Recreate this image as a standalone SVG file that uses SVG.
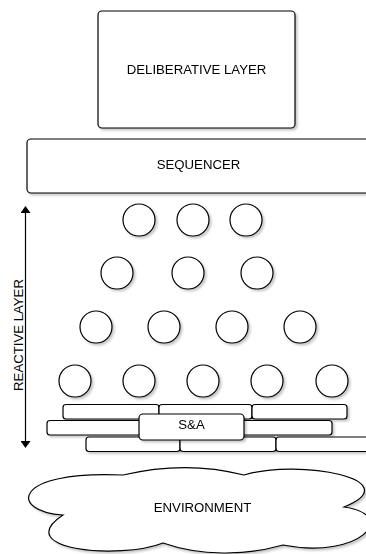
<svg xmlns="http://www.w3.org/2000/svg" width="366" height="554" viewBox="0 0 366 554">
<style>
.b{fill:#fff;stroke:#000;stroke-width:1.2}
.t{font-family:"Liberation Sans",Arial,sans-serif;font-size:13.2px;fill:#000;text-anchor:middle}
.c{fill:#fff;stroke:#000;stroke-width:1.2}
</style>
<defs>
<filter id="sh" x="-20%" y="-20%" width="140%" height="140%">
<feDropShadow dx="2" dy="2" stdDeviation="1" flood-color="#000" flood-opacity="0.22"/>
</filter>
<marker id="ah" viewBox="0 0 10 10" refX="0" refY="5" markerWidth="7" markerHeight="10" markerUnits="userSpaceOnUse" orient="auto-start-reverse" preserveAspectRatio="none">
<path d="M0,0 L10,5 L0,10 Z" fill="#000"/>
</marker>
</defs>
<rect width="366" height="554" fill="#fff"/>
<g id="deliberative" filter="url(#sh)">
<rect class="b" x="98" y="11" width="197" height="117" rx="4"/>
<text class="t" x="196.5" y="74">DELIBERATIVE LAYER</text>
</g>
<g id="sequencer" filter="url(#sh)">
<rect class="b" x="27" y="139" width="345" height="54" rx="4"/>
<text class="t" x="198.5" y="169">SEQUENCER</text>
</g>
<g id="behaviors" filter="url(#sh)">
<circle class="c" cx="139" cy="220" r="16"/>
<circle class="c" cx="193" cy="220" r="16"/>
<circle class="c" cx="246" cy="220" r="16"/>
<circle class="c" cx="117" cy="273" r="16"/>
<circle class="c" cx="188" cy="273" r="16"/>
<circle class="c" cx="257" cy="273" r="16"/>
<circle class="c" cx="96" cy="327" r="16"/>
<circle class="c" cx="164" cy="327" r="16"/>
<circle class="c" cx="232" cy="327" r="16"/>
<circle class="c" cx="300" cy="327" r="16"/>
<circle class="c" cx="75" cy="381" r="16"/>
<circle class="c" cx="139" cy="381" r="16"/>
<circle class="c" cx="203" cy="381" r="16"/>
<circle class="c" cx="267" cy="381" r="16"/>
<circle class="c" cx="332" cy="381" r="16"/>
</g>
<g id="bricks" filter="url(#sh)">
<rect class="b" x="63" y="404.5" width="96" height="14.5" rx="3"/>
<rect class="b" x="159" y="404.5" width="93" height="14.5" rx="3"/>
<rect class="b" x="252" y="404.5" width="95" height="14.5" rx="3"/>
<rect class="b" x="47" y="420.5" width="95" height="14.5" rx="3"/>
<rect class="b" x="142" y="420.5" width="95" height="14.5" rx="3"/>
<rect class="b" x="237" y="420.5" width="95" height="14.5" rx="3"/>
<rect class="b" x="86" y="437" width="94" height="14.5" rx="3"/>
<rect class="b" x="180" y="437" width="96" height="14.5" rx="3"/>
<rect class="b" x="276" y="437" width="96" height="14.5" rx="3"/>
</g>
<g id="sa" filter="url(#sh)">
<rect class="b" x="139" y="414" width="105" height="26" rx="4"/>
<text class="t" x="191.5" y="428.5">S&amp;A</text>
</g>
<g id="environment" filter="url(#sh)">
<path class="b" d="M123,475 C165,465 205,465 244,475 C300,458 410,480 344,507 C400,515 360,560 283,545 C245,556 200,556 163,543 C120,560 10,550 63,515 C10,512 10,470 123,475 Z"/>
<text class="t" x="202.5" y="512">ENVIRONMENT</text>
</g>
<g id="connectors">
<line x1="25.5" y1="213" x2="25.5" y2="441" stroke="#000" stroke-width="1.2" marker-start="url(#ah)" marker-end="url(#ah)"/>
<text class="t" transform="translate(22.5,335) rotate(-90)" x="0" y="0">REACTIVE LAYER</text>
</g>
</svg>
